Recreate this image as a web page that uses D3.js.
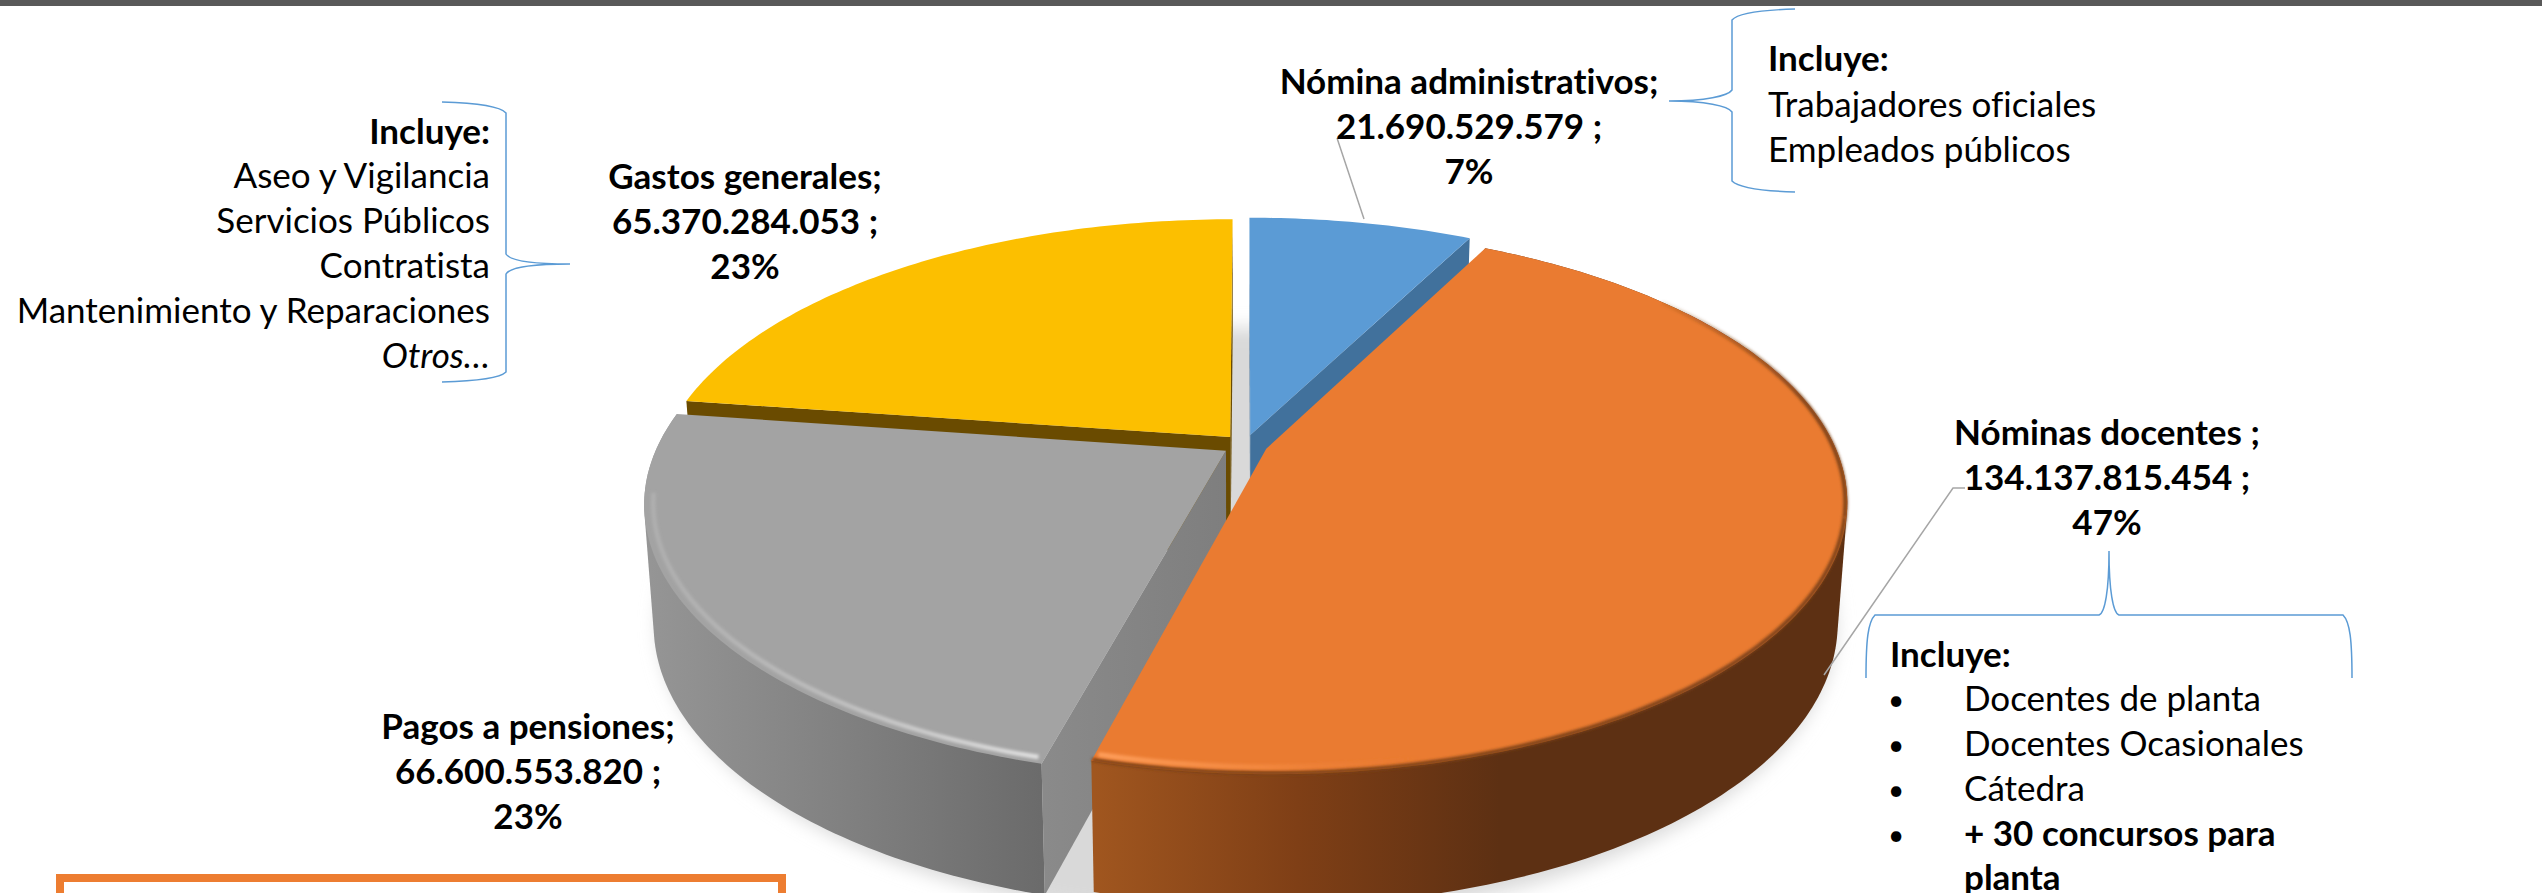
<!DOCTYPE html>
<html lang="es">
<head>
<meta charset="utf-8">
<script src="https://cdn.jsdelivr.net/npm/d3@7"></script>
<style>
html,body{margin:0;padding:0;background:#fff;overflow:hidden}
svg{display:block}
text{font-family:Lato,"Open Sans",sans-serif;fill:#000;font-variant-ligatures:none}
</style>
</head>
<body>
<svg id="c" width="2542" height="893"></svg>
<script>
const categories = ["Nómina administrativos;", "Nóminas docentes ;", "Pagos a pensiones;", "Gastos generales;"];
const values = [21690529579, 134137815454, 66600553820, 65370284053];
const percents = ["7%", "47%", "23%", "23%"];
const topColors = ["#5b9bd5", "#ea7b31", "#a3a3a3", "#fcbf00"];
const includesGastos = ["Aseo y Vigilancia", "Servicios Públicos", "Contratista", "Mantenimiento y Reparaciones"];
const includesNomina = ["Trabajadores oficiales", "Empleados públicos"];
const includesDocentes = ["Docentes de planta", "Docentes Ocasionales", "Cátedra"];

const FS = 35;
const svg = d3.select("#c");
const defs = svg.append("defs");
const fmt = d3.formatLocale({decimal: ",", thousands: ".", grouping: [3], currency: ["$", ""]}).format(",d");

function grad(id, x1, x2, stops) {
  const g = defs.append("linearGradient").attr("id", id).attr("gradientUnits", "userSpaceOnUse")
    .attr("x1", x1).attr("x2", x2).attr("y1", 0).attr("y2", 0);
  stops.forEach(s => g.append("stop").attr("offset", s[0]).attr("stop-color", s[1]).attr("stop-opacity", s[2] === undefined ? 1 : s[2]));
}
grad("wallGrey", 650, 1050, [[0, "#959595"], [.45, "#828282"], [1, "#6a6a6a"]]);
grad("wallOrange", 1095, 1500, [[0, "#a0561f"], [.5, "#7f3f16"], [1, "#5d3013"]]);
grad("faceGrey", 1045, 1230, [[0, "#8a8a8a"], [1, "#7e7e7e"]]);
grad("rimOrange", 1095, 1420, [[0, "#ff9f5c", 1], [.5, "#f78e45", .7], [1, "#ea7b31", 0]]);
grad("rimGrey", 645, 1045, [[0, "#bdbdbd", .45], [.45, "#c4c4c4", .8], [1, "#e2e2e2", 1]]);
grad("rimDark", 1640, 1810, [[0, "#7a4016", 0], [1, "#7a4016", 1]]);
defs.append("filter").attr("id", "shadow").attr("x", "-10%").attr("y", "-10%").attr("width", "120%").attr("height", "120%")
  .append("feGaussianBlur").attr("stdDeviation", 9);
defs.append("filter").attr("id", "soft").attr("x", "-5%").attr("y", "-5%").attr("width", "110%").attr("height", "110%")
  .append("feGaussianBlur").attr("stdDeviation", 1.5);

const layers = {
  top: {cx: 1245, cy: 445, A: 568, B: 262},
  bot: {cx: 1245, cy: 563, A: 559, B: 273},
  shd: {cx: 1247, cy: 568, A: 578, B: 286}
};
const K = .19, EXPLODE = .04;
function project(X, Y, layer) {
  const l = layers[layer], w = 1 + K * Y;
  return [l.cx + l.A * X / w, l.cy - l.B * Y / w];
}
const arcs = d3.pie().sort(null).value(d => d)(values);
const mid = a => (a.startAngle + a.endAngle) / 2;
function pt(a, t, r, layer) {
  const m = mid(a);
  return project(r * Math.sin(t) + EXPLODE * Math.sin(m), r * Math.cos(t) + EXPLODE * Math.cos(m), layer);
}
function arcPts(a, t0, t1, r, layer) {
  const n = Math.max(4, Math.ceil(Math.abs(t1 - t0) * 60));
  return d3.range(n + 1).map(i => pt(a, t0 + (t1 - t0) * i / n, r, layer));
}
const line = d3.line();
const closed = d3.line().curve(d3.curveLinearClosed);
const g = svg.append("g");

// top bar
svg.insert("rect", "g").attr("x", 0).attr("y", 0).attr("width", 2542).attr("height", 6).attr("fill", "#595959");

// soft drop shadow of the whole pie
const shdPts = d3.range(0, 361, 3).map(d => {
  const t = d * Math.PI / 180;
  return project(Math.sin(t), Math.cos(t), "shd");
});
g.append("path").attr("d", closed(shdPts)).attr("fill", "#d9d9d9").attr("filter", "url(#shadow)");

const [blue, orange, grey, yellow] = arcs;

function face(a, t, fill) {
  const pts = [pt(a, t, 0, "top"), pt(a, t, 1, "top"), pt(a, t, 1, "bot"), pt(a, t, 0, "bot")];
  g.append("path").attr("d", closed(pts)).attr("fill", fill);
}
function wall(a, t0, t1, fill) {
  const pts = arcPts(a, t0, t1, 1, "top").concat(arcPts(a, t1, t0, 1, "bot"));
  g.append("path").attr("d", closed(d3.polygonHull(pts))).attr("fill", fill);
}
function topFace(a, fill) {
  const pts = [pt(a, 0, 0, "top")].concat(arcPts(a, a.startAngle, a.endAngle, 1, "top"));
  g.append("path").attr("d", closed(pts)).attr("fill", fill);
}

// blue slice
face(blue, blue.endAngle, "#41719c");
face(blue, blue.startAngle, "#41719c");
topFace(blue, topColors[0]);

// yellow slice
face(yellow, yellow.endAngle, "#6a4b00");
face(yellow, yellow.startAngle, "#6a4b00");
topFace(yellow, topColors[3]);

// grey slice
wall(grey, grey.startAngle, grey.endAngle, "url(#wallGrey)");
face(grey, grey.startAngle, "url(#faceGrey)");
topFace(grey, topColors[2]);
g.append("path").attr("d", line(arcPts(grey, grey.startAngle + .01, grey.endAngle - .3, .985, "top")))
  .attr("fill", "none").attr("stroke", "url(#rimGrey)").attr("stroke-width", 4.5).attr("filter", "url(#soft)");

// orange slice
wall(orange, orange.startAngle, orange.endAngle, "url(#wallOrange)");
topFace(orange, topColors[1]);
const quarter = Math.PI * .58;
g.append("path").attr("d", line(arcPts(orange, .9, quarter, .997, "top")))
  .attr("fill", "none").attr("stroke", "url(#rimDark)").attr("stroke-width", 4).attr("filter", "url(#soft)");
g.append("path").attr("d", line(arcPts(orange, quarter, orange.endAngle, .997, "top")))
  .attr("fill", "none").attr("stroke", "#7a4016").attr("stroke-width", 4).attr("filter", "url(#soft)");
g.append("path").attr("d", line(arcPts(orange, orange.endAngle - .9, orange.endAngle - .005, .982, "top")))
  .attr("fill", "none").attr("stroke", "url(#rimOrange)").attr("stroke-width", 5).attr("filter", "url(#soft)");

// leader lines
const leader = d3.line();
const leaders = [[[1337, 138], [1364, 219]], [[1965, 488], [1953, 488], [1824, 675]]];
g.selectAll(".leader").data(leaders).enter().append("path").attr("class", "leader")
  .attr("d", d => leader(d)).attr("fill", "none").attr("stroke", "#a6a6a6").attr("stroke-width", 1.5);

// braces
const braces = [
  "M442,102 C478,103 500,106 506,113 L506,254 C510,261 535,264 570,264 C535,264 510,267 506,274 L506,372 C500,378 478,381 442,382",
  "M1795,9 C1760,10 1738,13 1732,20 L1732,90 C1728,96 1705,101 1669,101 C1705,101 1728,106 1732,112 L1732,181 C1738,187 1760,191 1795,192",
  "M1866,678 C1866,640 1868,622 1875,615 L2099,615 C2105,613 2109,590 2109,551 C2109,590 2113,613 2119,615 L2343,615 C2350,622 2352,640 2352,678"
];
g.selectAll(".brace").data(braces).enter().append("path").attr("class", "brace")
  .attr("d", d => d).attr("fill", "none").attr("stroke", "#5b9bd5").attr("stroke-width", 1.5);

// orange box (runs past the bottom of the picture)
g.append("rect").attr("x", 60).attr("y", 878).attr("width", 722).attr("height", 60)
  .attr("fill", "#fff").attr("stroke", "#ed7d31").attr("stroke-width", 8);

function txt(x, y, s, o) {
  o = o || {};
  return g.append("text").attr("x", x).attr("y", y + 1.5).attr("font-size", o.size || FS)
    .attr("text-anchor", o.anchor || "start").attr("font-weight", o.bold ? 700 : 400)
    .attr("font-style", o.italic ? "italic" : "normal").text(s);
}
// data labels
const labelPos = [[1469, 92], [2107, 443], [528, 737], [745, 187]];
categories.forEach((c, i) => {
  const [x, y] = labelPos[i];
  txt(x, y, c, {anchor: "middle", bold: true});
  txt(x, y + 45, fmt(values[i]) + " ;", {anchor: "middle", bold: true});
  txt(x, y + 90, percents[i], {anchor: "middle", bold: true});
});
// Gastos note
txt(490, 142, "Incluye:", {anchor: "end", bold: true});
includesGastos.forEach((s, i) => txt(490, 186 + i * 45, s, {anchor: "end"}));
txt(490, 366, "Otros…", {anchor: "end", italic: true});
// Nómina note
txt(1768, 69, "Incluye:", {bold: true});
includesNomina.forEach((s, i) => txt(1768, 115 + i * 45, s));
// Docentes note
txt(1890, 665, "Incluye:", {bold: true});
includesDocentes.forEach((s, i) => {
  txt(1896, 708 + i * 45, "•", {anchor: "middle", size: 28});
  txt(1964, 709 + i * 45, s);
});
txt(1896, 843, "•", {anchor: "middle", size: 28});
txt(1964, 844, "+ 30 concursos para", {bold: true});
txt(1964, 888, "planta", {bold: true});
</script>
</body>
</html>
